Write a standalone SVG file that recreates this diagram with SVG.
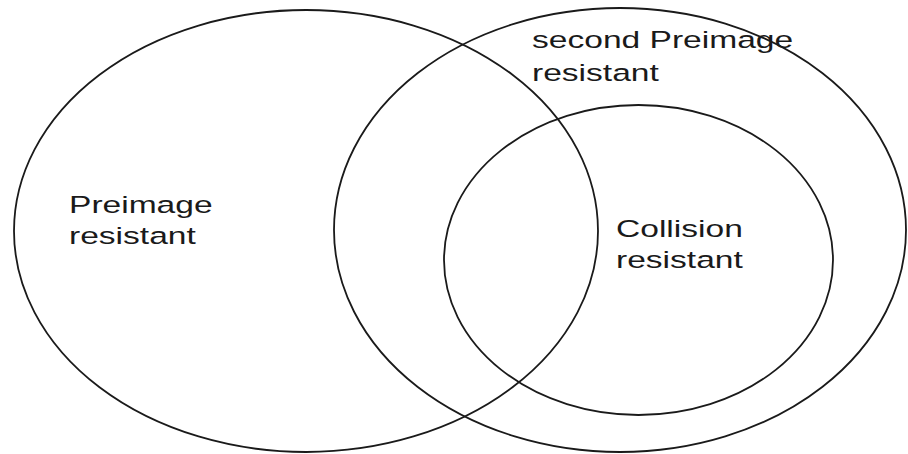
<svg xmlns="http://www.w3.org/2000/svg" width="908" height="454" viewBox="0 0 908 454">
  <style>
    .set { fill: none; stroke: #1a1a1a; stroke-width: 1.8; }
    .lbl { font-family: "Liberation Sans", Arial, sans-serif; font-size: 24.5px; fill: #1a1a1a; }
  </style>
  <rect width="908" height="454" fill="#ffffff"/>

  <!-- Preimage resistant -->
  <g id="preimage">
    <ellipse class="set" cx="306" cy="231" rx="292" ry="221"/>
    <g transform="translate(69,0) scale(1.37,1)">
      <text class="lbl" x="0" y="213">Preimage</text>
      <text class="lbl" x="0" y="244">resistant</text>
    </g>
  </g>

  <!-- second Preimage resistant -->
  <g id="second-preimage">
    <ellipse class="set" cx="620" cy="230" rx="286" ry="222"/>
    <g transform="translate(532,0) scale(1.37,1)">
      <text class="lbl" x="0" y="48">second Preimage</text>
      <text class="lbl" x="0" y="81">resistant</text>
    </g>
  </g>

  <!-- Collision resistant -->
  <g id="collision">
    <ellipse class="set" cx="638.5" cy="260" rx="194.5" ry="155"/>
    <g transform="translate(616,0) scale(1.37,1)">
      <text class="lbl" x="0" y="237">Collision</text>
      <text class="lbl" x="0" y="268">resistant</text>
    </g>
  </g>

  <g id="connectors"/>
</svg>
